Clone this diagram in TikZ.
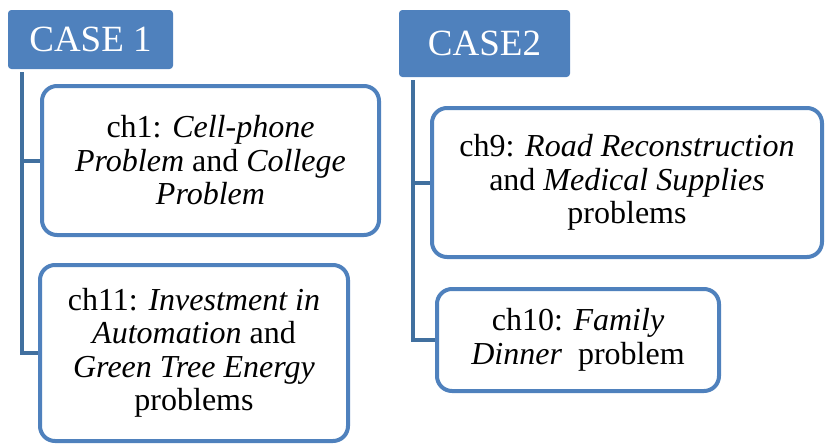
\documentclass[tikz,border=0pt]{standalone}
\usepackage{fontspec}
\setmainfont{Liberation Serif}
\definecolor{boxblue}{HTML}{4F81BD}
\definecolor{linkblue}{HTML}{41709F}
\tikzset{
  casebox/.style={fill=boxblue, draw=boxblue, line width=1pt, rounded corners=3pt, text=white,
    font=\fontsize{37}{40}\selectfont, inner sep=0pt},
  itembox/.style={draw=boxblue, line width=4pt, rounded corners=15pt, fill=white,
    align=center, inner sep=0pt, font=\fontsize{32}{33.5}\selectfont},
  conn/.style={draw=linkblue, line width=4pt}
}
\begin{document}
\begin{tikzpicture}[x=1pt,y=-1pt]
\useasboundingbox (0,0) rectangle (825,445);
% CASE 1
\node[casebox, minimum width=164pt, minimum height=58pt] (case1) at (90.5,39.5) {CASE 1};
\node[itembox, minimum width=337pt, minimum height=149pt] (ch1) at (210.5,160.5)
  {ch1: \textit{Cell-phone}\\ \textit{Problem} and \textit{College}\\ \textit{Problem}};
\node[itembox, minimum width=308pt, minimum height=176pt] (ch11) at (194,353)
  {ch11: \textit{Investment in}\\ \textit{Automation} and\\ \textit{Green Tree Energy}\\ problems};
\draw[conn] ([xshift=14pt,yshift=-3pt]case1.south west) |- (ch1.west);
\draw[conn] ([xshift=14pt,yshift=-3pt]case1.south west) |- (ch11.west);
% CASE 2
\node[casebox, minimum width=170pt, minimum height=66pt] (case2) at (484.5,43.5) {CASE2};
\node[itembox, minimum width=390pt, minimum height=149pt] (ch9) at (627,182.5)
  {ch9: \textit{Road Reconstruction}\\ and \textit{Medical Supplies}\\ problems};
\node[itembox, minimum width=282pt, minimum height=102pt] (ch10) at (578,340)
  {ch10: \textit{Family}\\ \textit{Dinner}~ problem};
\draw[conn] ([xshift=14pt,yshift=-3pt]case2.south west) |- (ch9.west);
\draw[conn] ([xshift=14pt,yshift=-3pt]case2.south west) |- (ch10.west);
\end{tikzpicture}
\end{document}
